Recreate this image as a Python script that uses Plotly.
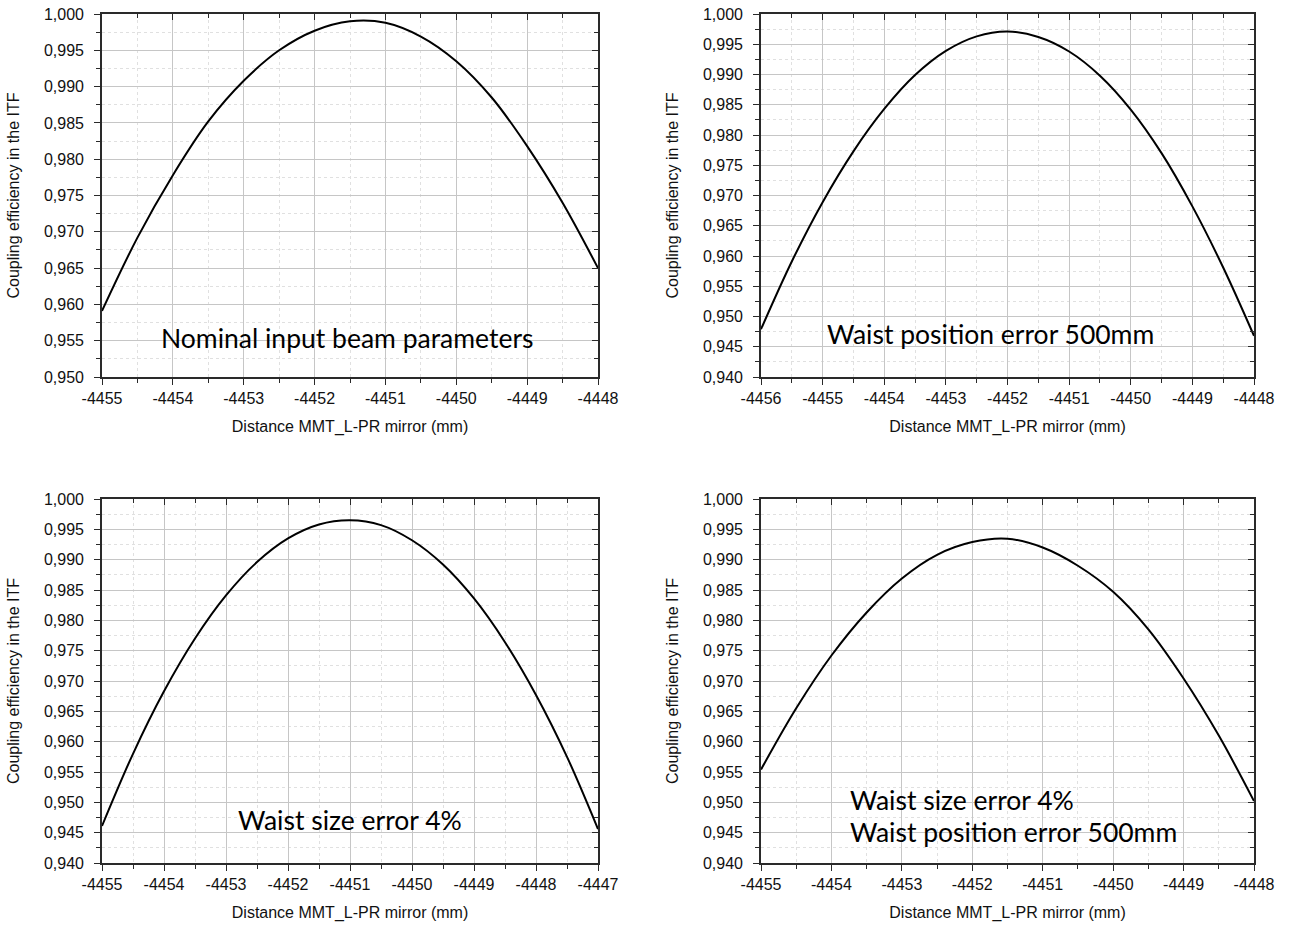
import plotly.graph_objects as go

# ---------------- data ----------------
x_nominal = [-4455, -4454.5, -4454, -4453.5, -4453, -4452.5, -4452, -4451.5, -4451,
             -4450.5, -4450, -4449.5, -4449, -4448.5, -4448]
y_nominal = [0.9591, 0.9692, 0.9778, 0.9852, 0.9908, 0.9950, 0.9977, 0.9990, 0.9988,
             0.9969, 0.9935, 0.9885, 0.9818, 0.9740, 0.9650]

x_waist_pos = [-4456, -4455.5, -4455, -4454.5, -4454, -4453.5, -4453, -4452.5, -4452,
               -4451.5, -4451, -4450.5, -4450, -4449.5, -4449, -4448.5, -4448]
y_waist_pos = [0.9479, 0.9591, 0.9689, 0.9773, 0.9843, 0.9899, 0.9939, 0.9963, 0.9971,
               0.9962, 0.9938, 0.9898, 0.9842, 0.9770, 0.9682, 0.9581, 0.9468]

x_waist_size = [-4455, -4454.5, -4454, -4453.5, -4453, -4452.5, -4452, -4451.5, -4451,
                -4450.5, -4450, -4449.5, -4449, -4448.5, -4448, -4447.5, -4447]
y_waist_size = [0.9461, 0.9580, 0.9683, 0.9770, 0.9841, 0.9896, 0.9935, 0.9958, 0.9965,
                0.9957, 0.9932, 0.9892, 0.9836, 0.9764, 0.9677, 0.9575, 0.9456]

x_both = [-4455, -4454.5, -4454, -4453.5, -4453, -4452.5, -4452, -4451.5, -4451,
          -4450.5, -4450, -4449.5, -4449, -4448.5, -4448]
y_both = [0.9554, 0.9655, 0.9742, 0.9813, 0.9869, 0.9908, 0.9929, 0.99345, 0.9920,
          0.9890, 0.9847, 0.9785, 0.9704, 0.9610, 0.9502]

x_ranges = [[-4455, -4448], [-4456, -4448], [-4455, -4447], [-4455, -4448]]
y_ranges = [[0.950, 1.000], [0.940, 1.000], [0.940, 1.000], [0.940, 1.000]]

x_tickvals = [list(range(-4455, -4447)), list(range(-4456, -4447)),
              list(range(-4455, -4446)), list(range(-4455, -4447))]
x_ticktext = [[str(v) for v in tv] for tv in x_tickvals]

labels = ["Nominal input beam parameters",
          "Waist position error 500mm",
          "Waist size error 4%",
          "Waist size error 4%",
          "Waist position error 500mm"]

x_title = "Distance MMT_L-PR mirror (mm)"
y_title = "Coupling efficiency in the ITF"

series = [(x_nominal, y_nominal), (x_waist_pos, y_waist_pos),
          (x_waist_size, y_waist_size), (x_both, y_both)]

# ---------------- layout geometry (pixels, page coordinates) ----------------
W, H = 1290, 927
boxes = [(102, 598, 14, 377), (761, 1254, 14, 377),
         (102, 598, 499, 863), (761, 1254, 499, 863)]

def px(v):
    return v / W

def py(v):
    return 1 - v / H

FONT = "Liberation Sans, Arial, sans-serif"
fig = go.Figure()
layout = dict(
    width=W, height=H, margin=dict(l=0, r=0, t=0, b=0, autoexpand=False),
    paper_bgcolor="white", plot_bgcolor="white",
    showlegend=False, separators=", ",
    font=dict(family=FONT, size=16, color="#111"),
)

grid_major = "#c6c6c6"
grid_minor = "#e0e0e0"
axc = "#2a2a2a"

for i, ((xs, ys), (l, r, t, b)) in enumerate(zip(series, boxes)):
    n = i + 1
    sfx = "" if n == 1 else str(n)
    ov = i + 5
    fig.add_trace(go.Scatter(x=xs, y=ys, mode="lines",
                             line=dict(color="black", width=2, shape="spline", smoothing=1.0),
                             xaxis="x" + sfx, yaxis="y" + sfx, hoverinfo="skip"))
    fig.add_trace(go.Scatter(x=xs, y=ys, mode="lines", opacity=0, line=dict(width=0),
                             xaxis="x%d" % ov, yaxis="y%d" % ov, hoverinfo="skip"))
    xd = [px(l), px(r)]
    yd = [py(b), py(t)]
    layout["xaxis" + sfx] = dict(
        domain=xd, anchor="y" + sfx, range=x_ranges[i],
        tickmode="array", tickvals=x_tickvals[i], ticktext=x_ticktext[i],
        showline=True, linecolor=axc, linewidth=1.6, mirror=True,
        ticks="outside", ticklen=6, tickwidth=1.4, tickcolor=axc,
        showgrid=True, gridcolor=grid_major, gridwidth=1, zeroline=False,
        minor=dict(dtick=0.5, tick0=0, ticks="outside", ticklen=4, tickwidth=1.2, tickcolor=axc,
                   showgrid=True, gridcolor=grid_minor, griddash="dot", gridwidth=1),
        tickfont=dict(family=FONT, size=16, color="#111"), ticklabeloverflow="allow",
        title=dict(text=x_title, font=dict(family=FONT, size=16, color="#111"), standoff=15),
        automargin=False, fixedrange=True,
    )
    layout["yaxis" + sfx] = dict(
        domain=yd, anchor="x" + sfx, range=y_ranges[i], dtick=0.005, tick0=0, tickformat=".3f",
        showline=True, linecolor=axc, linewidth=1.6, mirror=True,
        ticks="outside", ticklen=6, tickwidth=1.4, tickcolor=axc,
        showgrid=True, gridcolor=grid_major, gridwidth=1, zeroline=False,
        minor=dict(dtick=0.0025, tick0=0, ticks="outside", ticklen=4, tickwidth=1.2, tickcolor=axc,
                   showgrid=True, gridcolor=grid_minor, griddash="dot", gridwidth=1),
        tickfont=dict(family=FONT, size=16, color="#111"), ticklabelstandoff=7,
        ticklabeloverflow="allow",
        title=dict(text=y_title, font=dict(family=FONT, size=16, color="#111"), standoff=20),
        automargin=False, fixedrange=True,
    )
    layout["xaxis%d" % ov] = dict(
        overlaying="x" + sfx, anchor="y" + sfx, side="top", range=x_ranges[i], dtick=1, tick0=0,
        showline=False, ticks="inside", ticklen=6, tickwidth=1.4, tickcolor=axc,
        showticklabels=False, showgrid=False, zeroline=False,
        minor=dict(dtick=0.5, tick0=0, ticks="inside", ticklen=4, tickwidth=1.2, tickcolor=axc, showgrid=False),
        automargin=False, fixedrange=True,
    )
    layout["yaxis%d" % ov] = dict(
        overlaying="y" + sfx, anchor="x" + sfx, side="right", range=y_ranges[i], dtick=0.005, tick0=0,
        showline=False, ticks="inside", ticklen=6, tickwidth=1.4, tickcolor=axc,
        showticklabels=False, showgrid=False, zeroline=False,
        minor=dict(dtick=0.0025, tick0=0, ticks="inside", ticklen=4, tickwidth=1.2, tickcolor=axc, showgrid=False),
        automargin=False, fixedrange=True,
    )

ann_font = dict(family="Lato, Open Sans, sans-serif", size=26.5, color="black")
annotations = [
    dict(x=px(347), y=py(338), text=labels[0], xanchor="center"),
    dict(x=px(990), y=py(334), text=labels[1], xanchor="center"),
    dict(x=px(350), y=py(820), text=labels[2], xanchor="center"),
    dict(x=px(848), y=py(800), text=labels[3], xanchor="left"),
    dict(x=px(848), y=py(832), text=labels[4], xanchor="left"),
]
layout["annotations"] = [dict(a, xref="paper", yref="paper", yanchor="middle", showarrow=False,
                              font=ann_font) for a in annotations]

fig.update_layout(**layout)
fig.write_html("out.html", config={"displayModeBar": False},
               post_script="document.body.style.margin='0px';document.body.style.overflow='hidden';")
